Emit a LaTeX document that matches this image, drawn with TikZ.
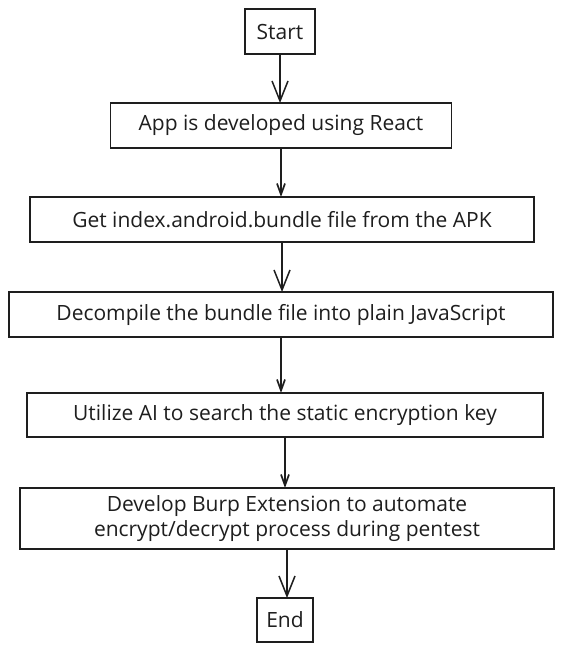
\documentclass[tikz,border=0pt]{standalone}
\usepackage{fontspec}
\setmainfont{Open Sans}
\usetikzlibrary{positioning,arrows.meta}
\definecolor{ink}{HTML}{1E1E1E}
\begin{document}
\begin{tikzpicture}[x=1pt, y=1pt, node distance=49pt,
    caja/.style={draw=ink, text=ink, line width=1.6pt, rectangle, fill=white,
      minimum height=45pt, align=center, inner sep=0pt, outer sep=0pt,
      font=\fontsize{21pt}{25pt}\selectfont},
    flecha/.style={-{Straight Barb[length=20pt, width=16pt]}, line width=1.5pt, draw=ink},
    flechita/.style={-{Straight Barb[length=11pt, width=8pt]}, line width=1.7pt, draw=ink}]

    \useasboundingbox (0,0) rectangle (563,-651);

    % Nodo de inicio
    \node (start) [caja, minimum width=70pt] at (280,-31.5) {Start};

    % Nodo para la app en React
    \node (react) [caja, minimum width=341pt, below=49pt of start, xshift=1pt]
    {App is developed using React};

    % Nodo para el bundle del APK
    \node (bundle) [caja, minimum width=504pt, below=49pt of react, xshift=1pt]
    {Get index.android.bundle file from the APK};

    % Nodo para la decompilacion
    \node (decompile) [caja, minimum width=544pt, below=50pt of bundle, xshift=-1pt]
    {Decompile the bundle file into plain JavaScript};

    % Nodo para la busqueda de la clave
    \node (aikey) [caja, minimum width=516pt, minimum height=44pt, below=56pt of decompile, xshift=4pt]
    {Utilize AI to search the static encryption key};

    % Nodo para la extension de Burp
    \node (burp) [caja, minimum width=534pt, minimum height=61pt, below=51pt of aikey, xshift=2pt]
    {Develop Burp Extension to automate\\ encrypt/decrypt process during pentest};

    % Nodo de fin
    \node (finish) [caja, minimum width=56pt, minimum height=44pt, below=49pt of burp, xshift=-2pt] {End};

    % Conectar nodos con flechas
    \draw[flecha] (start) -- (start |- react.north);
    \draw[flechita] (react) -- (react |- bundle.north);
    \draw[flecha] (bundle) -- (bundle |- decompile.north);
    \draw[flechita] (decompile) -- (decompile |- aikey.north);
    \draw[flechita] (aikey) -- (aikey |- burp.north);
    \draw[flecha] (burp) -- (burp |- finish.north);

\end{tikzpicture}
\end{document}
